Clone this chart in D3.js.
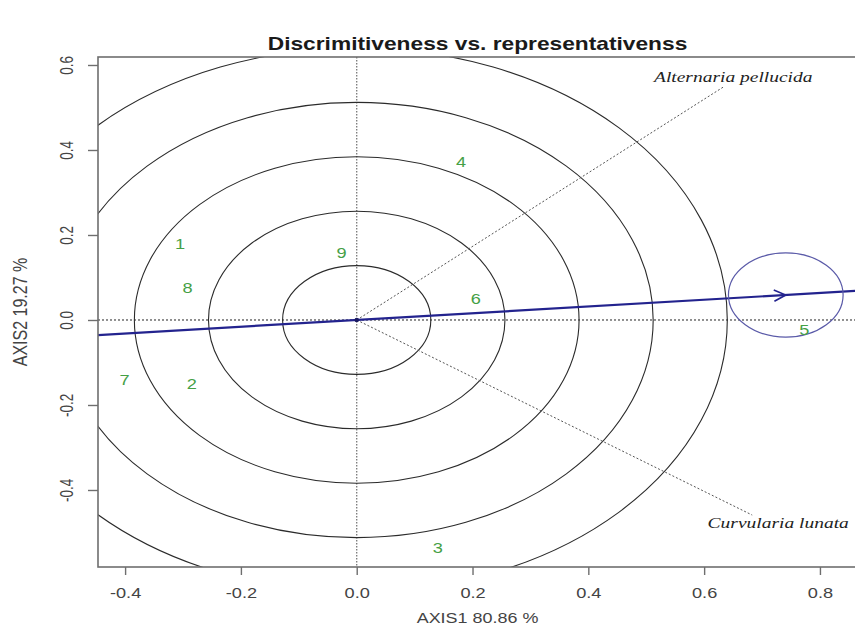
<!DOCTYPE html>
<html>
<head>
<meta charset="utf-8">
<script src="https://cdn.jsdelivr.net/npm/d3@7"></script>
<style>
  html, body { margin: 0; padding: 0; background: #fff; }
  svg { display: block; }
</style>
</head>
<body>
<svg id="chart" width="855" height="634"></svg>
<script>
// ---- data ----
const genotypes = ["1", "2", "3", "4", "5", "6", "7", "8", "9"];
const genoAxis1 = [-0.305, -0.285, 0.140, 0.180, 0.773, 0.2055, -0.401, -0.292, -0.026];
const genoAxis2 = [0.178, -0.151, -0.536, 0.372, -0.0235, 0.0487, -0.141, 0.0746, 0.157];

const environments = ["Alternaria pellucida", "Curvularia lunata"];
const envAxis1 = [0.633, 0.683];
const envAxis2 = [0.548, -0.459];

// average-environment point and its circle
const aecPoint = [0.741, 0.0588];
const aecRadius = 0.099;

// concentric rings around the biplot origin
const ringRadii = [0.128, 0.256, 0.384, 0.512, 0.64];

const xTicks = [-0.4, -0.2, 0.0, 0.2, 0.4, 0.6, 0.8];
const yTicks = [-0.4, -0.2, 0.0, 0.2, 0.4, 0.6];

const titleText = "Discrimitiveness vs. representativenss";
const xLabel = "AXIS1 80.86 %";
const yLabel = "AXIS2 19.27 %";

// ---- layout ----
const svg = d3.select("#chart");
const plot = { left: 98, right: 857, top: 57, bottom: 567 };
const stretch = 1.3;   // horizontal glyph stretch used for all text

const x = d3.scaleLinear().domain([-0.4468, 0.864]).range([plot.left, plot.right]);
const y = d3.scaleLinear().domain([-0.5812, 0.6188]).range([plot.bottom, plot.top]);

svg.append("defs").append("clipPath").attr("id", "plotClip")
  .append("rect")
  .attr("x", plot.left).attr("y", plot.top)
  .attr("width", plot.right - plot.left).attr("height", plot.bottom - plot.top);

const g = svg.append("g").attr("clip-path", "url(#plotClip)");

// reference lines through the origin
g.append("line")
  .attr("x1", x(0)).attr("x2", x(0)).attr("y1", plot.top).attr("y2", plot.bottom)
  .attr("stroke", "#777").attr("stroke-width", 1.3).attr("stroke-dasharray", "1.5,1.5");
g.append("line")
  .attr("x1", plot.left).attr("x2", plot.right).attr("y1", y(0)).attr("y2", y(0))
  .attr("stroke", "#222").attr("stroke-width", 1).attr("stroke-dasharray", "2,2");

// rings
g.selectAll("ellipse.ring").data(ringRadii).join("ellipse")
  .attr("class", "ring")
  .attr("cx", x(0)).attr("cy", y(0))
  .attr("rx", r => x(r) - x(0))
  .attr("ry", r => y(0) - y(r))
  .attr("fill", "none").attr("stroke", "#2b2b2b").attr("stroke-width", 1.1);

// environment vectors
g.selectAll("line.env").data(environments).join("line")
  .attr("class", "env")
  .attr("x1", x(0)).attr("y1", y(0))
  .attr("x2", (d, i) => x(envAxis1[i])).attr("y2", (d, i) => y(envAxis2[i]))
  .attr("stroke", "#555").attr("stroke-width", 1).attr("stroke-dasharray", "2,2");

// average-environment axis, extended across the plot
const slope = aecPoint[1] / aecPoint[0];
const xd = x.domain();
g.append("line")
  .attr("x1", x(xd[0])).attr("y1", y(xd[0] * slope))
  .attr("x2", x(xd[1])).attr("y2", y(xd[1] * slope))
  .attr("stroke", "#23238e").attr("stroke-width", 2.2);

// arrowhead at the average-environment point
const tipX = x(aecPoint[0]), tipY = y(aecPoint[1]);
const ang = Math.atan2(tipY - y(0), tipX - x(0));
const headLen = 13, headAng = Math.PI / 7;
g.append("path")
  .attr("d", `M${tipX - headLen * Math.cos(ang - headAng)},${tipY - headLen * Math.sin(ang - headAng)}
              L${tipX},${tipY}
              L${tipX - headLen * Math.cos(ang + headAng)},${tipY - headLen * Math.sin(ang + headAng)}`)
  .attr("fill", "none").attr("stroke", "#23238e").attr("stroke-width", 1.6);

// circle around the ideal environment
g.append("ellipse")
  .attr("cx", tipX).attr("cy", tipY)
  .attr("rx", x(aecPoint[0] + aecRadius) - tipX)
  .attr("ry", tipY - y(aecPoint[1] + aecRadius))
  .attr("fill", "none").attr("stroke", "#5a5aa8").attr("stroke-width", 1.2);

// origin marker
g.append("circle").attr("cx", x(0)).attr("cy", y(0)).attr("r", 2.2).attr("fill", "#1a1a60");

// genotype labels
g.selectAll("text.geno").data(genotypes).join("text")
  .attr("class", "geno")
  .attr("transform", (d, i) => `translate(${x(genoAxis1[i])},${y(genoAxis2[i])}) scale(${stretch},1)`)
  .attr("text-anchor", "middle").attr("dy", "0.36em")
  .attr("font-family", "Liberation Sans, Arial, sans-serif").attr("font-size", 14)
  .attr("fill", "#45a045")
  .text(d => d);

// environment labels
const envOffsets = [[10, -10], [26, 8]];
svg.selectAll("text.envlab").data(environments).join("text")
  .attr("class", "envlab")
  .attr("transform", (d, i) => `translate(${x(envAxis1[i]) + envOffsets[i][0]},${y(envAxis2[i]) + envOffsets[i][1]}) scale(${stretch},1)`)
  .attr("text-anchor", "middle").attr("dy", "0.33em")
  .attr("font-family", "Liberation Serif, Times New Roman, serif").attr("font-style", "italic")
  .attr("font-size", 15).attr("fill", "#222")
  .text(d => d);

// frame
svg.append("rect")
  .attr("x", plot.left).attr("y", plot.top)
  .attr("width", plot.right - plot.left).attr("height", plot.bottom - plot.top)
  .attr("fill", "none").attr("stroke", "#6e6e6e").attr("stroke-width", 1.6);

// axes (plain hyphen for negative numbers)
const fmt = d => d3.format(".1f")(d).replace("\u2212", "-");
const xAxis = svg.append("g").attr("transform", `translate(0,${plot.bottom})`)
  .call(d3.axisBottom(x).tickValues(xTicks).tickFormat(fmt).tickSize(8).tickPadding(13));
xAxis.select(".domain").remove();
xAxis.selectAll(".tick line").attr("stroke", "#6e6e6e").attr("stroke-width", 1.4);
xAxis.selectAll(".tick text")
  .attr("transform", `scale(${stretch},1)`)
  .attr("font-family", "Liberation Sans, Arial, sans-serif").attr("font-size", 14).attr("fill", "#444");

const yAxis = svg.append("g").attr("transform", `translate(${plot.left},0)`)
  .call(d3.axisLeft(y).tickValues(yTicks).tickFormat(fmt).tickSize(10));
yAxis.select(".domain").remove();
yAxis.selectAll(".tick line").attr("stroke", "#6e6e6e").attr("stroke-width", 1.4);
yAxis.selectAll(".tick text")
  .attr("x", null).attr("dy", "0.36em")
  .attr("text-anchor", "middle")
  .attr("transform", `translate(${67 - plot.left},0) scale(${stretch},1) rotate(-90)`)
  .attr("font-family", "Liberation Sans, Arial, sans-serif").attr("font-size", 13.5).attr("fill", "#444");

// axis titles
svg.append("text")
  .attr("transform", `translate(${(plot.left + plot.right) / 2},${623}) scale(${stretch},1)`)
  .attr("text-anchor", "middle")
  .attr("font-family", "Liberation Sans, Arial, sans-serif").attr("font-size", 13.8).attr("fill", "#444")
  .text(xLabel);
svg.append("text")
  .attr("transform", `translate(20,${(plot.top + plot.bottom) / 2}) scale(${stretch},1) rotate(-90)`)
  .attr("text-anchor", "middle").attr("dy", "0.36em")
  .attr("font-family", "Liberation Sans, Arial, sans-serif").attr("font-size", 16).attr("fill", "#444")
  .text(yLabel);

// title
svg.append("text")
  .attr("transform", `translate(${(plot.left + plot.right) / 2},${50}) scale(${stretch},1)`)
  .attr("text-anchor", "middle")
  .attr("font-family", "Liberation Sans, Arial, sans-serif").attr("font-size", 17.5).attr("font-weight", "bold")
  .attr("fill", "#1a1a1a")
  .text(titleText);
</script>
</body>
</html>
